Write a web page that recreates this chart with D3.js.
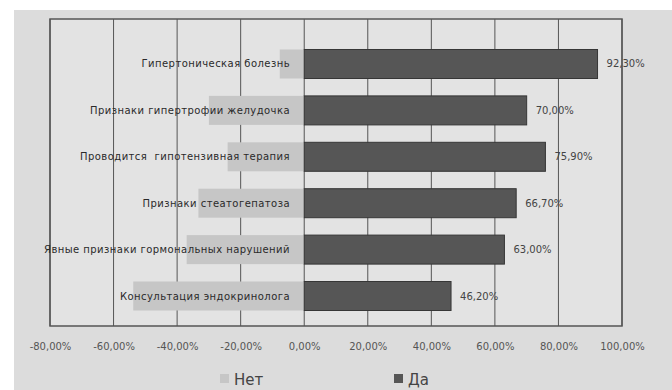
<!DOCTYPE html>
<html><head><meta charset="utf-8">
<script src="https://cdn.jsdelivr.net/npm/d3@7"></script>
<style>html,body{margin:0;padding:0;background:#fff;}svg{display:block;}</style>
</head><body>
<svg id="chart" width="672" height="390"></svg>
<script>
const categories = [
  "Гипертоническая болезнь",
  "Признаки гипертрофии желудочка",
  "Проводится  гипотензивная терапия",
  "Признаки стеатогепатоза",
  "Явные признаки гормональных нарушений",
  "Консультация эндокринолога"
];
const yesValues = [92.3, 70.0, 75.9, 66.7, 63.0, 46.2];
const noValues = [-7.7, -30.0, -24.1, -33.3, -37.0, -53.8];
const tickValues = [-80, -60, -40, -20, 0, 20, 40, 60, 80, 100];
const seriesNames = ["Нет", "Да"];

const svg = d3.select("#chart");
const fmt = v => d3.format(".2f")(v).replace(".", ",").replace("\u2212", "-") + "%";

// photo background
svg.append("rect").attr("x", 14).attr("y", 10).attr("width", 658).attr("height", 380).attr("fill", "#dcdcdc");

const plot = {left: 50, top: 19, right: 622, bottom: 326};
svg.append("rect").attr("x", plot.left).attr("y", plot.top)
  .attr("width", plot.right - plot.left).attr("height", plot.bottom - plot.top)
  .attr("fill", "#e3e3e3");

const x = d3.scaleLinear().domain([-80, 100]).range([plot.left, plot.right]);
const y = d3.scaleBand().domain(categories).range([34, 326]).paddingInner(0.375).paddingOuter(0.334);

// gridlines
svg.append("g").selectAll("line").data(tickValues).join("line")
  .attr("x1", d => x(d)).attr("x2", d => x(d))
  .attr("y1", plot.top).attr("y2", plot.bottom)
  .attr("stroke", "#555").attr("stroke-width", 1);

// Нет bars
svg.append("g").selectAll("rect").data(categories).join("rect")
  .attr("x", (d, i) => x(noValues[i])).attr("width", (d, i) => x(0) - x(noValues[i]))
  .attr("y", d => y(d)).attr("height", y.bandwidth())
  .attr("fill", "#c6c6c6");

// Да bars
svg.append("g").selectAll("rect").data(categories).join("rect")
  .attr("x", x(0)).attr("width", (d, i) => x(yesValues[i]) - x(0))
  .attr("y", d => y(d)).attr("height", y.bandwidth())
  .attr("fill", "#565656").attr("stroke", "#363636").attr("stroke-width", 1);

// plot border
svg.append("rect").attr("x", plot.left).attr("y", plot.top)
  .attr("width", plot.right - plot.left).attr("height", plot.bottom - plot.top)
  .attr("fill", "none").attr("stroke", "#555").attr("stroke-width", 1.5);

// category labels
svg.append("g").selectAll("text").data(categories).join("text")
  .attr("x", 290).attr("y", d => y(d) + y.bandwidth() / 2)
  .attr("dy", "0.35em").attr("text-anchor", "end")
  .attr("font-family", "DejaVu Sans, sans-serif").attr("font-size", 10)
  .attr("letter-spacing", 0.45)
  .style("white-space", "pre")
  .attr("fill", "#2a2a2a").text(d => d);

// value labels
svg.append("g").selectAll("text").data(categories).join("text")
  .attr("x", (d, i) => x(yesValues[i]) + 9).attr("y", d => y(d) + y.bandwidth() / 2)
  .attr("dy", "0.35em")
  .attr("font-family", "DejaVu Sans, sans-serif").attr("font-size", 10)
  .attr("fill", "#444").text((d, i) => fmt(yesValues[i]));

// x axis
const axis = d3.axisBottom(x).tickValues(tickValues).tickSize(0).tickPadding(0).tickFormat(fmt);
const ag = svg.append("g").attr("transform", `translate(0, 350)`).call(axis);
ag.select(".domain").remove();
ag.selectAll("text").attr("font-family", "DejaVu Sans, sans-serif").attr("font-size", 10)
  .attr("fill", "#555").attr("dy", 0);

// legend
const legendX = [220, 394];
const colors = ["#c6c6c6", "#565656"];
const lg = svg.append("g");
seriesNames.forEach((n, i) => {
  lg.append("rect").attr("x", legendX[i]).attr("y", 374).attr("width", 9).attr("height", 9).attr("fill", colors[i]);
  lg.append("text").attr("x", legendX[i] + 14).attr("y", 385)
    .attr("font-family", "DejaVu Sans, sans-serif").attr("font-size", 15)
    .attr("fill", "#444").text(n);
});
</script>
</body></html>
